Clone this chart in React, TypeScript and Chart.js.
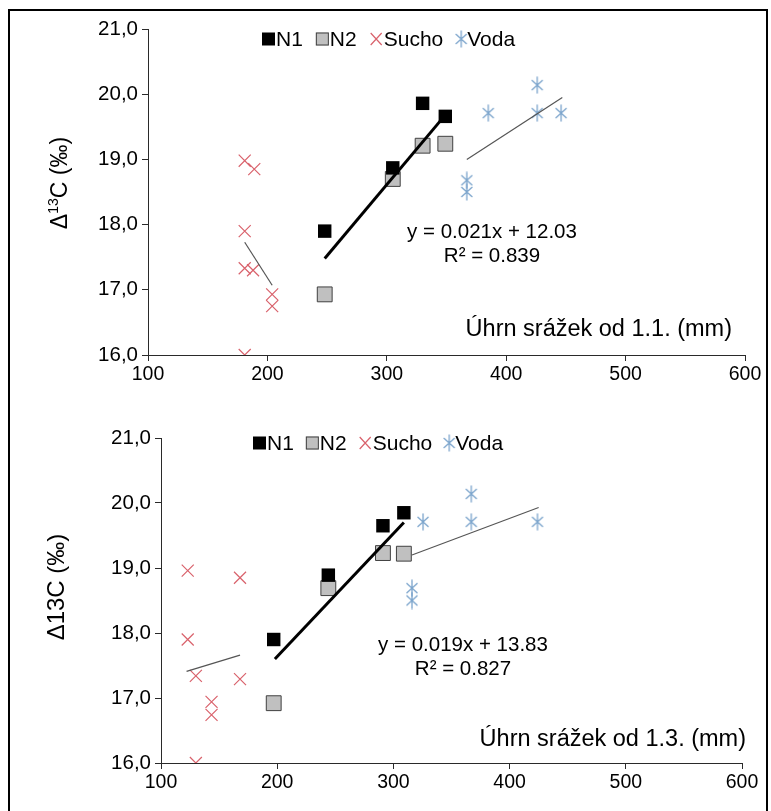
import React, { useEffect, useRef } from 'react';
import { Chart, registerables } from 'chart.js';

Chart.register(...registerables);

// ---------- data ----------
const xTickValues = [100, 200, 300, 400, 500, 600];
const yTickValues = [16, 17, 18, 19, 20, 21];
const legendLabels = ['N1', 'N2', 'Sucho', 'Voda'];

// Top chart: precipitation since 1.1.
const topN1X = [248, 305, 330, 349];
const topN1Y = [17.9, 18.87, 19.86, 19.66];
const topN2X = [248, 305, 330, 349];
const topN2Y = [16.93, 18.7, 19.21, 19.24];
const topSuchoX = [181, 189, 181, 181, 188, 204, 204, 181];
const topSuchoY = [18.98, 18.85, 17.9, 17.33, 17.3, 16.93, 16.75, 16.0];
const topVodaX = [367, 367, 385, 426, 426, 446];
const topVodaY = [18.68, 18.5, 19.71, 20.14, 19.71, 19.71];
const topTrendN1X = [248, 348];
const topTrendN1Y = [17.48, 19.66];
const topTrendSuchoX = [181, 204];
const topTrendSuchoY = [17.73, 17.07];
const topTrendVodaX = [367, 447];
const topTrendVodaY = [19.0, 19.95];
const topEquation = ['y = 0.021x + 12.03', 'R² = 0.839'];
const topXTitle = 'Úhrn srážek od 1.1. (mm)';

// Bottom chart: precipitation since 1.3.
const botN1X = [197, 244, 291, 309];
const botN1Y = [17.9, 18.89, 19.65, 19.85];
const botN2X = [197, 244, 291, 309];
const botN2Y = [16.92, 18.69, 19.23, 19.22];
const botSuchoX = [123, 168, 123, 130, 168, 143.5, 143.5, 130];
const botSuchoY = [18.96, 18.85, 17.9, 17.34, 17.29, 16.94, 16.74, 16.0];
const botVodaX = [316, 316, 325.5, 367, 367, 424];
const botVodaY = [18.69, 18.5, 19.71, 20.14, 19.71, 19.71];
const botTrendN1X = [198, 309];
const botTrendN1Y = [17.6, 19.7];
const botTrendSuchoX = [122, 168];
const botTrendSuchoY = [17.41, 17.66];
const botTrendVodaX = [316, 425];
const botTrendVodaY = [19.2, 19.93];
const botEquation = ['y = 0.019x + 13.83', 'R² = 0.827'];
const botXTitle = 'Úhrn srážek od 1.3. (mm)';

// ---------- styles ----------
const FONT = "'Liberation Sans', Arial, sans-serif";
const RED = '#d9626c';
const BLUE = '#7ba4cc';
const GREY_FILL = '#c0c0c0';
const AXIS = '#2a2a2a';

const zip = (xs: number[], ys: number[]) => xs.map((x, i) => ({ x, y: ys[i] }));

function makeAsterisk(color: string) {
  const c = document.createElement('canvas');
  c.width = 16;
  c.height = 18;
  const g = c.getContext('2d')!;
  g.strokeStyle = color;
  g.lineWidth = 1.3;
  g.beginPath();
  g.moveTo(2.5, 4);
  g.lineTo(13.5, 14);
  g.moveTo(13.5, 4);
  g.lineTo(2.5, 14);
  g.moveTo(8, 0.5);
  g.lineTo(8, 17.5);
  g.stroke();
  return c;
}

interface Cfg {
  n1: { x: number; y: number }[];
  n2: { x: number; y: number }[];
  sucho: { x: number; y: number }[];
  voda: { x: number; y: number }[];
  tN1: { x: number; y: number }[];
  tSucho: { x: number; y: number }[];
  tVoda: { x: number; y: number }[];
  equation: string[];
  xTitle: string;
  superscript: boolean;
  pad: { left: number; top: number; right: number; bottom: number };
  legendDx: number;
  legendDy: number;
  legendGap: number;
  eqCx: number;
  eqDy: number;
  xTitleDx: number;
  xTitleDy: number;
  xTitleSize: number;
  yTitleX: number;
  yTitleY: number;
  yTitleSize: number;
}

function drawLegendMarker(ctx: CanvasRenderingContext2D, kind: number, x: number, y: number, ast: HTMLCanvasElement) {
  ctx.save();
  if (kind === 0) {
    ctx.fillStyle = '#000';
    ctx.fillRect(x, y - 6.5, 13, 13);
  } else if (kind === 1) {
    ctx.fillStyle = GREY_FILL;
    ctx.fillRect(x, y - 6.5, 13, 13);
    ctx.strokeStyle = '#404040';
    ctx.lineWidth = 1;
    ctx.strokeRect(x + 0.5, y - 6, 12, 12);
  } else if (kind === 2) {
    ctx.strokeStyle = RED;
    ctx.lineWidth = 1.2;
    ctx.beginPath();
    ctx.moveTo(x + 1, y - 6);
    ctx.lineTo(x + 12, y + 6);
    ctx.moveTo(x + 12, y - 6);
    ctx.lineTo(x + 1, y + 6);
    ctx.stroke();
  } else {
    ctx.drawImage(ast, x - 3, y - 9);
  }
  ctx.restore();
}

function ScatterPanel({ cfg, height }: { cfg: Cfg; height: number }) {
  const ref = useRef<HTMLCanvasElement>(null);
  useEffect(() => {
    const canvas = ref.current!;
    const ast = makeAsterisk(BLUE);
    const textPlugin = {
      id: 'texts',
      afterDraw(chart: any) {
        const ctx: CanvasRenderingContext2D = chart.ctx;
        const a = chart.chartArea;
        ctx.save();
        // legend
        ctx.font = `21px ${FONT}`;
        ctx.fillStyle = '#000';
        ctx.textBaseline = 'middle';
        ctx.textAlign = 'left';
        let lx = a.left + cfg.legendDx;
        const ly = a.top + cfg.legendDy;
        legendLabels.forEach((lab, i) => {
          drawLegendMarker(ctx, i, lx, ly, ast);
          lx += i === 3 ? 11 : 14;
          ctx.fillStyle = '#000';
          ctx.fillText(lab, lx, ly + 1);
          lx += ctx.measureText(lab).width + cfg.legendGap;
        });
        // equation
        ctx.textAlign = 'center';
        ctx.font = `20.5px ${FONT}`;
        ctx.fillText(cfg.equation[0], cfg.eqCx, a.top + cfg.eqDy);
        ctx.fillText(cfg.equation[1], cfg.eqCx, a.top + cfg.eqDy + 24);
        // x title
        ctx.textAlign = 'right';
        ctx.font = `${cfg.xTitleSize}px ${FONT}`;
        ctx.fillText(cfg.xTitle, a.right + cfg.xTitleDx, a.bottom + cfg.xTitleDy);
        // y title
        ctx.translate(cfg.yTitleX, cfg.yTitleY);
        ctx.rotate(-Math.PI / 2);
        ctx.textAlign = 'left';
        const big = `${cfg.yTitleSize}px ${FONT}`;
        const small = `14px ${FONT}`;
        const parts = cfg.superscript
          ? [
              { t: 'Δ', f: big, dy: 0 },
              { t: '13', f: small, dy: -7 },
              { t: 'C (‰)', f: big, dy: 0 },
            ]
          : [{ t: 'Δ13C (‰)', f: big, dy: 0 }];
        let total = 0;
        parts.forEach((p) => {
          ctx.font = p.f;
          total += ctx.measureText(p.t).width;
        });
        let px = -total / 2;
        parts.forEach((p) => {
          ctx.font = p.f;
          ctx.fillText(p.t, px, p.dy);
          px += ctx.measureText(p.t).width;
        });
        ctx.restore();
      },
    };

    const chart = new Chart(canvas, {
      type: 'scatter',
      data: {
        datasets: [
          {
            type: 'line',
            label: 'trend N1',
            data: cfg.tN1,
            borderColor: '#000',
            borderWidth: 3,
            pointRadius: 0,
            showLine: true,
            fill: false,
          },
          {
            type: 'line',
            label: 'trend Sucho',
            data: cfg.tSucho,
            borderColor: '#555',
            borderWidth: 1.2,
            pointRadius: 0,
            showLine: true,
            fill: false,
          },
          {
            type: 'line',
            label: 'trend Voda',
            data: cfg.tVoda,
            borderColor: '#555',
            borderWidth: 1.2,
            pointRadius: 0,
            showLine: true,
            fill: false,
          },
          {
            label: legendLabels[0],
            data: cfg.n1,
            pointStyle: 'rect',
            pointRadius: 9.5,
            backgroundColor: '#000',
            borderColor: '#000',
            borderWidth: 0,
          },
          {
            label: legendLabels[1],
            data: cfg.n2,
            pointStyle: 'rect',
            pointRadius: 10.5,
            backgroundColor: GREY_FILL,
            borderColor: '#404040',
            borderWidth: 1,
          },
          {
            label: legendLabels[2],
            data: cfg.sucho,
            pointStyle: 'crossRot',
            pointRadius: 8.5,
            borderColor: RED,
            borderWidth: 1.2,
          },
          {
            label: legendLabels[3],
            data: cfg.voda,
            pointStyle: ast,
            pointRadius: 8,
            borderColor: BLUE,
            backgroundColor: BLUE,
          },
        ] as any,
      },
      options: {
        animation: false,
        responsive: false,
        devicePixelRatio: 1,
        layout: { padding: cfg.pad },
        plugins: {
          legend: { display: false },
          tooltip: { enabled: false },
        },
        scales: {
          x: {
            type: 'linear',
            min: 100,
            max: 600,
            afterBuildTicks: (s: any) => {
              s.ticks = xTickValues.map((v) => ({ value: v }));
            },
            ticks: { font: { family: FONT, size: 19.5 }, color: '#000', padding: 2 },
            grid: { drawOnChartArea: false, tickLength: 6, color: AXIS },
            border: { color: AXIS, width: 1 },
            afterFit: (s: any) => {
              s.height = 32;
            },
          },
          y: {
            type: 'linear',
            min: 16,
            max: 21,
            afterBuildTicks: (s: any) => {
              s.ticks = yTickValues.map((v) => ({ value: v }));
            },
            ticks: {
              font: { family: FONT, size: 20.5 },
              color: '#000',
              padding: 4,
              callback: (v: any) => Number(v).toFixed(1).replace('.', ','),
            },
            grid: { drawOnChartArea: false, tickLength: 6, color: AXIS },
            border: { color: AXIS, width: 1 },
            afterFit: (s: any) => {
              s.width = 60;
            },
          },
        },
      } as any,
      plugins: [textPlugin],
    });
    return () => chart.destroy();
  }, []);
  return <canvas ref={ref} width={771} height={height} style={{ display: 'block', width: 771, height }} />;
}

const topCfg: Cfg = {
  n1: zip(topN1X, topN1Y),
  n2: zip(topN2X, topN2Y),
  sucho: zip(topSuchoX, topSuchoY),
  voda: zip(topVodaX, topVodaY),
  tN1: zip(topTrendN1X, topTrendN1Y),
  tSucho: zip(topTrendSuchoX, topTrendSuchoY),
  tVoda: zip(topTrendVodaX, topTrendVodaY),
  equation: topEquation,
  xTitle: topXTitle,
  superscript: true,
  pad: { left: 88, top: 29, right: 26, bottom: 13 },
  legendDx: 114,
  legendDy: 10,
  legendGap: 13,
  eqCx: 492,
  eqDy: 203,
  xTitleDx: -13,
  xTitleDy: -25,
  xTitleSize: 23.5,
  yTitleX: 61,
  yTitleY: 183,
  yTitleSize: 23,
};

const botCfg: Cfg = {
  n1: zip(botN1X, botN1Y),
  n2: zip(botN2X, botN2Y),
  sucho: zip(botSuchoX, botSuchoY),
  voda: zip(botVodaX, botVodaY),
  tN1: zip(botTrendN1X, botTrendN1Y),
  tSucho: zip(botTrendSuchoX, botTrendSuchoY),
  tVoda: zip(botTrendVodaX, botTrendVodaY),
  equation: botEquation,
  xTitle: botXTitle,
  superscript: false,
  pad: { left: 101, top: 38, right: 29, bottom: 16 },
  legendDx: 92,
  legendDy: 5,
  legendGap: 12,
  eqCx: 463,
  eqDy: 207,
  xTitleDx: 4,
  xTitleDy: -23,
  xTitleSize: 23.5,
  yTitleX: 57,
  yTitleY: 187,
  yTitleSize: 24,
};

export default function App() {
  return (
    <div
      style={{
        position: 'absolute',
        left: 0,
        top: 0,
        width: 771,
        height: 811,
        background: '#fff',
        overflow: 'hidden',
      }}
    >
      <div
        style={{
          position: 'absolute',
          left: 8,
          top: 9,
          width: 760,
          height: 820,
          border: '2px solid #000',
          boxSizing: 'border-box',
          pointerEvents: 'none',
        }}
      />
      <div style={{ position: 'absolute', left: 0, top: 0 }}>
        <ScatterPanel cfg={topCfg} height={400} />
      </div>
      <div style={{ position: 'absolute', left: 0, top: 400 }}>
        <ScatterPanel cfg={botCfg} height={411} />
      </div>
    </div>
  );
}
